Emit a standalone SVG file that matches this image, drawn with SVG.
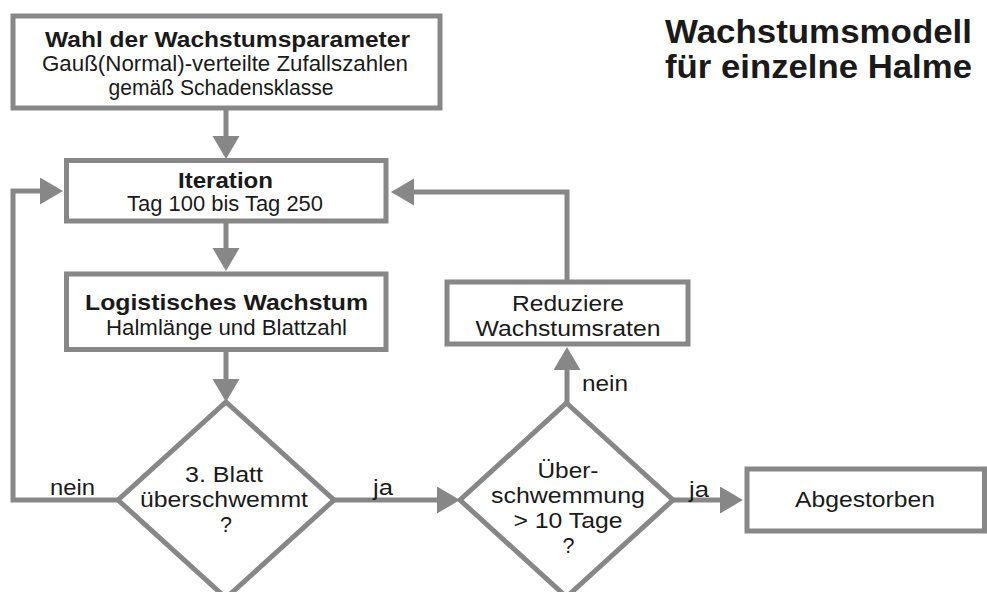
<svg xmlns="http://www.w3.org/2000/svg" width="987" height="592" viewBox="0 0 987 592">
<style>
.box{fill:#fff;stroke:#878787;stroke-width:5}
.con{fill:none;stroke:#878787;stroke-width:5}
text{font-family:"Liberation Sans",Arial,sans-serif;font-size:21.5px;fill:#1a1a1a;text-anchor:middle}
.b{font-weight:bold;font-size:22px}
.t{font-weight:bold;font-size:33px}
</style>
<defs>
<marker id="ah" markerUnits="userSpaceOnUse" markerWidth="24" markerHeight="28" refX="1" refY="13.5" orient="auto" viewBox="0 0 24 28">
<path d="M0,0 L23,13.5 L0,27 Z" fill="#878787"/>
</marker>
</defs>
<rect width="987" height="592" fill="#fff"/>
<g id="title">
<text class="t" x="818.5" y="43" textLength="307" lengthAdjust="spacingAndGlyphs">Wachstumsmodell</text>
<text class="t" x="818.5" y="78" textLength="307" lengthAdjust="spacingAndGlyphs">für einzelne Halme</text>
</g>
<g id="connectors">
<path class="con" d="M226,108 V137" marker-end="url(#ah)"/>
<path class="con" d="M226,221 V249" marker-end="url(#ah)"/>
<path class="con" d="M226,349 V380" marker-end="url(#ah)"/>
<path class="con" d="M118,500 H13 V191 H41" marker-end="url(#ah)"/>
<path class="con" d="M334,500 H438" marker-end="url(#ah)"/>
<path class="con" d="M567,403 V369" marker-end="url(#ah)"/>
<path class="con" d="M567,282 V192 H413" marker-end="url(#ah)"/>
<path class="con" d="M673,500 H721" marker-end="url(#ah)"/>
</g>
<g id="n_wahl">
<rect class="box" x="13" y="16" width="427" height="92"/>
<text class="b" x="227.5" y="47" textLength="365" lengthAdjust="spacingAndGlyphs">Wahl der Wachstumsparameter</text>
<text x="225" y="71" textLength="366" lengthAdjust="spacingAndGlyphs">Gauß(Normal)-verteilte Zufallszahlen</text>
<text x="221" y="95" textLength="225" lengthAdjust="spacingAndGlyphs">gemäß Schadensklasse</text>
</g>
<g id="n_iteration">
<rect class="box" x="66.5" y="160.5" width="319.5" height="60.5"/>
<text class="b" x="225.5" y="188" textLength="95" lengthAdjust="spacingAndGlyphs">Iteration</text>
<text x="225" y="211" textLength="196" lengthAdjust="spacingAndGlyphs">Tag 100 bis Tag 250</text>
</g>
<g id="n_logist">
<rect class="box" x="66.5" y="274" width="319.5" height="75.5"/>
<text class="b" x="226.5" y="310" textLength="283" lengthAdjust="spacingAndGlyphs">Logistisches Wachstum</text>
<text x="226.5" y="335" textLength="241" lengthAdjust="spacingAndGlyphs">Halmlänge und Blattzahl</text>
</g>
<g id="n_blatt">
<polygon class="box" points="226,402 334,500 226,598 118,500"/>
<text x="224" y="482" textLength="78" lengthAdjust="spacingAndGlyphs">3. Blatt</text>
<text x="224" y="507" textLength="168" lengthAdjust="spacingAndGlyphs">überschwemmt</text>
<text x="226" y="532">?</text>
</g>
<g id="n_ueber">
<polygon class="box" points="566.5,403 673,500 566.5,597 460,500"/>
<text x="568" y="478" textLength="61" lengthAdjust="spacingAndGlyphs">Über-</text>
<text x="568" y="503" textLength="154" lengthAdjust="spacingAndGlyphs">schwemmung</text>
<text x="568" y="528" textLength="109" lengthAdjust="spacingAndGlyphs">&gt; 10 Tage</text>
<text x="568.5" y="553">?</text>
</g>
<g id="n_reduziere">
<rect class="box" x="447" y="282" width="241" height="62"/>
<text x="568" y="311" textLength="112" lengthAdjust="spacingAndGlyphs">Reduziere</text>
<text x="568" y="336" textLength="185" lengthAdjust="spacingAndGlyphs">Wachstumsraten</text>
</g>
<g id="n_abgestorben">
<rect class="box" x="747" y="469" width="237.5" height="62"/>
<text x="865" y="507" textLength="140" lengthAdjust="spacingAndGlyphs">Abgestorben</text>
</g>
<g id="labels">
<text x="72.5" y="495" textLength="45" lengthAdjust="spacingAndGlyphs">nein</text>
<text x="383" y="495" textLength="20" lengthAdjust="spacingAndGlyphs">ja</text>
<text x="605" y="391" textLength="46" lengthAdjust="spacingAndGlyphs">nein</text>
<text x="699" y="497" textLength="20" lengthAdjust="spacingAndGlyphs">ja</text>
</g>
</svg>
